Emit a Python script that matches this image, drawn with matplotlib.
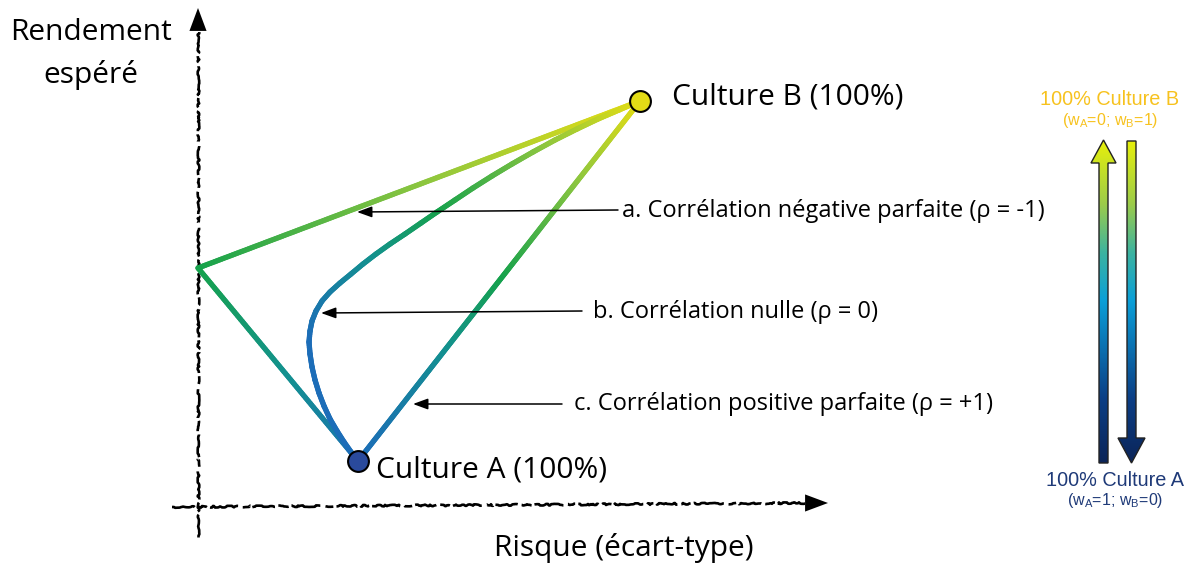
import numpy as np
import matplotlib.pyplot as plt
from matplotlib.collections import LineCollection
from matplotlib.colors import LinearSegmentedColormap
from matplotlib.patches import Polygon

# --- DATA (risque = x, rendement = y, unités arbitraires) ---
risk_a, ret_a = 1.60, 0.44      # Culture A (100%)
risk_b, ret_b = 4.42, 4.04      # Culture B (100%)

# a. corrélation négative parfaite : A -> risque nul -> B
neg_risk = [risk_a, 0.0, risk_b]
neg_ret = [ret_a, 2.37, ret_b]

# c. corrélation positive parfaite : droite A -> B
pos_risk = [risk_a, risk_b]
pos_ret = [ret_a, ret_b]

# b. corrélation nulle : points
zero_risk = [1.60, 1.53, 1.46, 1.39, 1.32, 1.26, 1.21, 1.17, 1.14, 1.12,
             1.11, 1.12, 1.14, 1.18, 1.24, 1.32, 1.42, 1.53, 1.65, 1.78,
             1.92, 2.07, 2.23, 2.39, 2.57, 2.75, 2.94, 3.14, 3.35, 3.57,
             3.79, 4.00, 4.21, 4.42]
zero_ret = [0.44, 0.53, 0.63, 0.74, 0.86, 0.99, 1.12, 1.25, 1.38, 1.51,
            1.63, 1.74, 1.84, 1.94, 2.04, 2.13, 2.22, 2.31, 2.41, 2.51,
            2.61, 2.71, 2.82, 2.93, 3.05, 3.17, 3.29, 3.41, 3.53, 3.65,
            3.76, 3.86, 3.95, 4.04]

labels = ["a. Corrélation négative parfaite (ρ = -1)",
          "b. Corrélation nulle (ρ = 0)",
          "c. Corrélation positive parfaite (ρ = +1)"]

# --- STYLE ---
FONT = "Open Sans"
line_cmap = LinearSegmentedColormap.from_list(
    "ab", [(0, "#1c6db8"), (0.25, "#13918f"), (0.45, "#16a24c"),
           (0.75, "#8dc63f"), (1, "#e4dd14")])
arrow_cmap = LinearSegmentedColormap.from_list(
    "leg", [(0, "#0b2458"), (0.2, "#0c3f86"), (0.5, "#0a9fd8"),
            (0.65, "#3cb3a0"), (0.8, "#9ccc4a"), (1, "#e8f00a")])

fig = plt.figure(figsize=(11.91, 5.68), dpi=100)
ax = fig.add_axes([0, 0, 1, 1])
XL, YL = (-1.98, 9.93), (-0.63, 5.05)


def grad_line(xs, ys, s0=0.0, gamma=1.0, n=300):
    # trait en dégradé de couleur le long de la courbe (A bleu -> B jaune)
    xs, ys = np.asarray(xs, float), np.asarray(ys, float)
    d = np.r_[0, np.cumsum(np.hypot(np.diff(xs), np.diff(ys)))]
    s = np.union1d(np.linspace(0, d[-1], n), d)
    px, py = np.interp(s, d, xs), np.interp(s, d, ys)
    pts = np.column_stack([px, py]).reshape(-1, 1, 2)
    segs = np.concatenate([pts[:-1], pts[1:]], axis=1)
    t = (s[:-1] + s[1:]) / 2 / d[-1]
    t = np.clip((t - s0) / (1 - s0), 0, 1) ** gamma
    lc = LineCollection(segs, colors=line_cmap(t), linewidths=3.8,
                        capstyle="round", joinstyle="round", zorder=3)
    ax.add_collection(lc)


grad_line(neg_risk, neg_ret, gamma=0.76)
grad_line(pos_risk, pos_ret, gamma=1.2)
grad_line(zero_risk, zero_ret, s0=0.25)

ax.plot(risk_a, ret_a, "o", ms=15, mfc="#2a4a9c", mec="black", mew=1.5, zorder=5)
ax.plot(risk_b, ret_b, "o", ms=15, mfc="#e3dc16", mec="black", mew=1.5, zorder=5)

# --- AXES DESSINÉS À LA MAIN ---
sketch = dict(color="black", lw=1.9, ls=(0, (9, 1.5, 4, 1.2, 12, 2, 3, 1.2)))
yax, = ax.plot([0.0, 0.0], [-0.32, 4.82], **sketch)
xax, = ax.plot([-0.26, 6.16], [-0.02, 0.02], **sketch)
for ln in (yax, xax):
    ln.set_sketch_params(scale=0.8, length=25, randomness=15)
head = dict(arrowstyle="-|>,head_length=0.75,head_width=0.28",
            mutation_scale=22, lw=0, color="black", shrinkA=0, shrinkB=0)
ax.annotate("", xy=(0.0, 4.97), xytext=(0.0, 4.70), arrowprops=head)
ax.annotate("", xy=(6.30, 0.02), xytext=(6.03, 0.02), arrowprops=head)

big = dict(fontsize=21.5, family=FONT, va="center")
ax.text(-1.07, 4.72, "Rendement", ha="center", **big)
ax.text(-1.07, 4.30, "espéré", ha="center", **big)
ax.text(4.26, -0.43, "Risque (écart-type)", ha="center", **big)
ax.text(4.74, 4.08, "Culture B (100%)", **big)
ax.text(1.78, 0.35, "Culture A (100%)", **big)

# --- ANNOTATIONS ---
ann = dict(arrowstyle="-|>,head_length=0.6,head_width=0.22", mutation_scale=15,
           color="black", lw=1.1, shrinkA=0, shrinkB=0)
ann_tip = [(1.59, 2.93), (1.23, 1.92), (2.15, 1.01)]
ann_end = [(4.20, 2.95), (3.84, 1.94), (3.64, 1.01)]
ann_txt = [(4.24, 2.94), (3.95, 1.93), (3.76, 1.01)]
for lab, tip, end, pos in zip(labels, ann_tip, ann_end, ann_txt):
    ax.annotate("", xy=tip, xytext=end, arrowprops=ann, zorder=4)
    ax.text(pos[0], pos[1], lab, fontsize=17, family=FONT, va="center")

# --- LÉGENDE : FLÈCHES EN DÉGRADÉ ---
up = Polygon([(9.01, 0.42), (9.10, 0.42), (9.10, 3.42), (9.18, 3.42),
              (9.055, 3.65), (8.93, 3.42), (9.01, 3.42)], closed=True,
             fc="none", ec="#222222", lw=1.0, zorder=6)
down = Polygon([(9.29, 3.64), (9.38, 3.64), (9.38, 0.67), (9.47, 0.67),
                (9.335, 0.42), (9.20, 0.67), (9.29, 0.67)], closed=True,
               fc="none", ec="#222222", lw=1.0, zorder=6)
grad = np.linspace(0, 1, 256).reshape(-1, 1)
for poly in (up, down):
    ax.add_patch(poly)
    im = ax.imshow(grad, cmap=arrow_cmap, origin="lower", aspect="auto",
                   extent=(8.9, 9.5, 0.42, 3.65), zorder=5)
    im.set_clip_path(poly)

LEG = "Liberation Sans"
ax.text(9.12, 4.05, "100% Culture B", fontsize=14.3, family=LEG, color="#f7c21e",
        ha="center", va="center")
ax.text(9.12, 3.84, r"(w$_{\mathregular{A}}$=0; w$_{\mathregular{B}}$=1)", fontsize=11.5,
        family=LEG, color="#f7c21e", ha="center", va="center")
ax.text(9.17, 0.25, "100% Culture A", fontsize=14.3, family=LEG, color="#1f3a78",
        ha="center", va="center")
ax.text(9.17, 0.04, r"(w$_{\mathregular{A}}$=1; w$_{\mathregular{B}}$=0)", fontsize=11.5,
        family=LEG, color="#1f3a78", ha="center", va="center")

ax.set_xlim(*XL)
ax.set_ylim(*YL)
ax.axis("off")
fig.savefig("out.png", dpi=100)
